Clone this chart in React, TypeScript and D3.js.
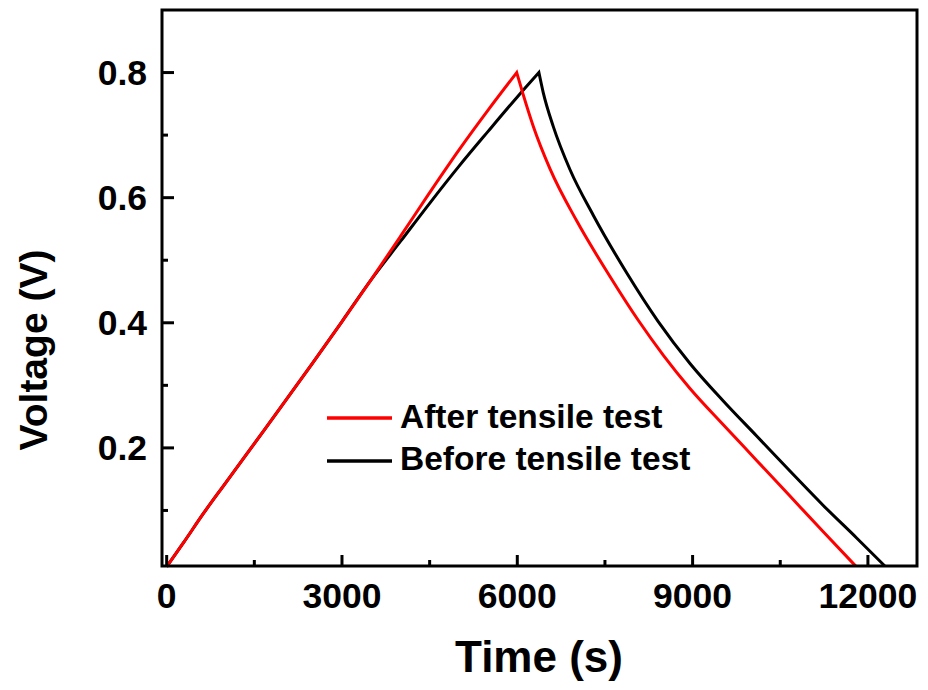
import React from "react";
import * as d3 from "d3";

const afterCharge: [number, number][] = [
  [0, 0.01], [300, 0.05], [620, 0.094], [1000, 0.143], [1500, 0.207], [2000, 0.271],
  [2500, 0.336], [3000, 0.402], [3500, 0.469], [4000, 0.538], [4500, 0.608],
  [5000, 0.676], [5500, 0.74], [5990, 0.8],
];
const afterDischarge: [number, number][] = [
  [5990, 0.8], [6100, 0.765], [6270, 0.715], [6560, 0.646], [7016, 0.563], [7586, 0.474],
  [8070, 0.404], [8500, 0.348], [8955, 0.295], [9525, 0.237], [10096, 0.18],
  [10666, 0.123], [11236, 0.066], [11790, 0.0112],
];
const beforeCharge: [number, number][] = [
  [0, 0.01], [300, 0.05], [620, 0.094], [1000, 0.143], [1500, 0.207], [2000, 0.271],
  [2500, 0.336], [3000, 0.402], [3500, 0.469], [4000, 0.53], [4500, 0.591],
  [5000, 0.65], [5500, 0.706], [6000, 0.761], [6370, 0.8],
];
const beforeDischarge: [number, number][] = [
  [6370, 0.8], [6444, 0.768], [6615, 0.714], [6901, 0.645], [7300, 0.572], [7871, 0.48],
  [8412, 0.402], [8955, 0.335], [9525, 0.275], [10096, 0.219], [10666, 0.163],
  [11236, 0.108], [11807, 0.056], [12290, 0.0112],
];

const xMajor = [0, 3000, 6000, 9000, 12000];
const xMinor = [1500, 4500, 7500, 10500];
const yMajor = [0.2, 0.4, 0.6, 0.8];
const yMinor = [0.1, 0.3, 0.5, 0.7];

const seriesNames = ["After tensile test", "Before tensile test"];
const seriesColors = ["#ff0000", "#000000"];

const W = 928, H = 690;
const L = 162, R = 917, T = 10, B = 566;
const FONT = "'Liberation Sans', Arial, sans-serif";

export default function App() {
  const x = d3.scaleLinear().domain([-80, 12840]).range([L, R]);
  const y = d3.scaleLinear().domain([0.0112, 0.9]).range([B, T]);
  const line = d3.line<[number, number]>().x(d => x(d[0])).y(d => y(d[1])).curve(d3.curveMonotoneX);
  const fmtY = d3.format(".1f");
  const series = [
    [afterCharge, afterDischarge],
    [beforeCharge, beforeDischarge],
  ];

  return (
    <svg width={W} height={H} style={{ position: "absolute", left: 0, top: 0, background: "#fff" }}
      fontFamily={FONT} fontWeight="bold">
      <rect x={0} y={0} width={W} height={H} fill="#fff" />
      {[1, 0].map(i => (
        <path key={"s" + i}
          d={(line(series[i][0]) ?? "") + (line(series[i][1]) ?? "").replace(/^M/, "L")}
          fill="none" stroke={seriesColors[i]} strokeWidth={3} strokeLinejoin="miter" />
      ))}
      {xMajor.map(v => (
        <line key={"xM" + v} x1={x(v)} x2={x(v)} y1={B} y2={B - 11} stroke="#000" strokeWidth={3} />
      ))}
      {xMinor.map(v => (
        <line key={"xm" + v} x1={x(v)} x2={x(v)} y1={B} y2={B - 6} stroke="#000" strokeWidth={3} />
      ))}
      {yMajor.map(v => (
        <line key={"yM" + v} x1={L} x2={L + 12} y1={y(v)} y2={y(v)} stroke="#000" strokeWidth={3} />
      ))}
      {yMinor.map(v => (
        <line key={"ym" + v} x1={L} x2={L + 6} y1={y(v)} y2={y(v)} stroke="#000" strokeWidth={3} />
      ))}
      <rect x={L} y={T} width={R - L} height={B - T} fill="none" stroke="#000" strokeWidth={3} />
      {xMajor.map(v => (
        <text key={"xl" + v} x={x(v)} y={608} textAnchor="middle" fontSize={35.5}>{v}</text>
      ))}
      {yMajor.map(v => (
        <text key={"yl" + v} x={147} y={y(v) + 12} textAnchor="end" fontSize={35.5}>{fmtY(v)}</text>
      ))}
      <text x={539} y={672} textAnchor="middle" fontSize={44}>Time (s)</text>
      <text transform="translate(47,350) rotate(-90)" textAnchor="middle" fontSize={39}>Voltage (V)</text>
      {seriesNames.map((n, i) => (
        <g key={n}>
          <line x1={327} x2={392} y1={418 + i * 43} y2={418 + i * 43} stroke={seriesColors[i]} strokeWidth={3.5} />
          <text x={400} y={428 + i * 42} fontSize={33.5}>{n}</text>
        </g>
      ))}
    </svg>
  );
}
